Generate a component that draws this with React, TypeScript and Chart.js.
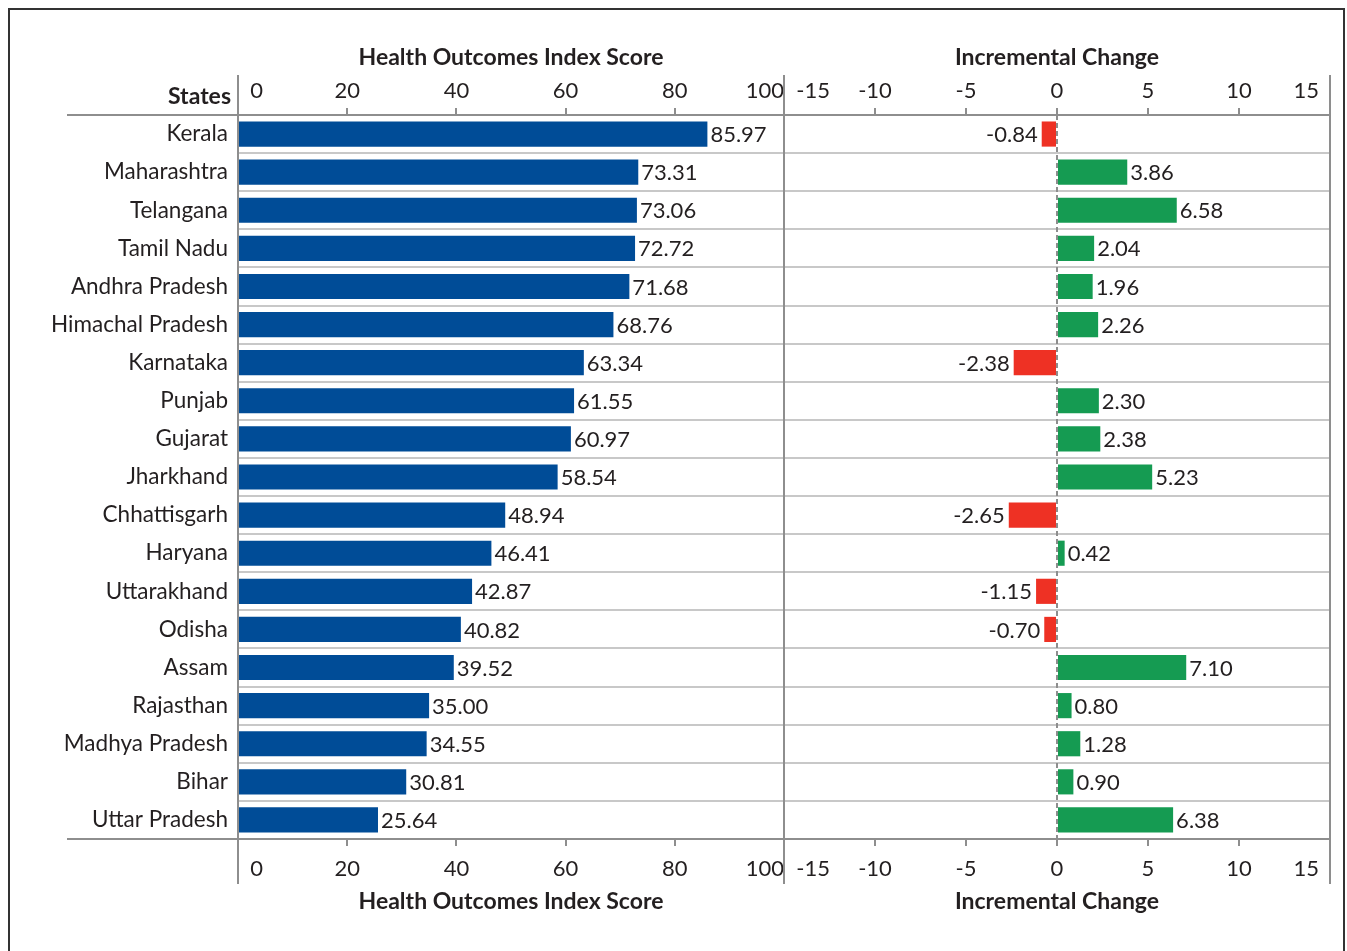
import React, { useEffect, useRef } from "react";
import { Chart, registerables } from "chart.js";

Chart.register(...registerables);

const states = [
  "Kerala", "Maharashtra", "Telangana", "Tamil Nadu", "Andhra Pradesh",
  "Himachal Pradesh", "Karnataka", "Punjab", "Gujarat", "Jharkhand",
  "Chhattisgarh", "Haryana", "Uttarakhand", "Odisha", "Assam",
  "Rajasthan", "Madhya Pradesh", "Bihar", "Uttar Pradesh",
];
const scores = [
  85.97, 73.31, 73.06, 72.72, 71.68, 68.76, 63.34, 61.55, 60.97, 58.54,
  48.94, 46.41, 42.87, 40.82, 39.52, 35.0, 34.55, 30.81, 25.64,
];
const changes = [
  -0.84, 3.86, 6.58, 2.04, 1.96, 2.26, -2.38, 2.3, 2.38, 5.23,
  -2.65, 0.42, -1.15, -0.7, 7.1, 0.8, 1.28, 0.9, 6.38,
];
const scoreTicks = [0, 20, 40, 60, 80, 100];
const changeTicks = [-15, -10, -5, 0, 5, 10, 15];
const scoreTitle = "Health Outcomes Index Score";
const changeTitle = "Incremental Change";
const categoryTitle = "States";

const FONT = "Lato";
const TEXT = "#231f20";
const AXIS = "#8e8e8e";
const GRID = "#c8c8c8";
const BLUE = "#004c97";
const GREEN = "#159b52";
const RED = "#ee3124";

const W = 1347;
const H = 951;
const AREA_LEFT = 238;
const AREA_RIGHT = 1330;
const AREA_TOP = 115;
const AREA_BOTTOM = 839;

const tickFont = { family: FONT, size: 22 };
const catFont = { family: FONT, size: 22.5 };
const titleFont = { family: FONT, size: 23, weight: "bold" as const };

function xAxis(
  position: "top" | "bottom",
  stack: string,
  min: number,
  max: number,
  ticksList: number[],
  title: string,
  lastPad: string
) {
  const top = position === "top";
  return {
    type: "linear" as const,
    position,
    stack,
    stackWeight: 1,
    min,
    max,
    afterBuildTicks: (s: any) => {
      s.ticks = ticksList.map((v) => ({ value: v }));
    },
    afterFit: (s: any) => {
      s.height = top ? AREA_TOP : H - AREA_BOTTOM;
    },
    grid: {
      drawOnChartArea: false,
      drawTicks: true,
      tickLength: 7,
      color: AXIS,
      lineWidth: 2,
    },
    border: { display: false },
    ticks: {
      font: tickFont,
      color: TEXT,
      padding: top ? 4 : 10,
      align: "inner" as const,
      maxRotation: 0,
      autoSkip: false,
      callback: (v: any, i: number) => {
        const s = String(v);
        if (i === 0) return "\u2002\u200A" + s;
        if (i === ticksList.length - 1) return s + lastPad;
        return s;
      },
    },
    title: {
      display: true,
      text: title,
      font: titleFont,
      color: TEXT,
      padding: top ? { top: 44, bottom: 0 } : { top: 0, bottom: 36 },
    },
  };
}

const decorPlugin = {
  id: "decor",
  beforeDatasetsDraw(chart: any) {
    const { ctx, chartArea } = chart;
    const zx = chart.scales.changeB.getPixelForValue(0);
    ctx.save();
    ctx.strokeStyle = AXIS;
    ctx.lineWidth = 2;
    ctx.setLineDash([5, 3]);
    ctx.beginPath();
    ctx.moveTo(zx, chartArea.top);
    ctx.lineTo(zx, chartArea.bottom);
    ctx.stroke();
    ctx.restore();
  },
  afterDatasetsDraw(chart: any) {
    const { ctx } = chart;
    ctx.save();
    ctx.font = `22px ${FONT}`;
    ctx.fillStyle = TEXT;
    ctx.textBaseline = "middle";
    chart.getDatasetMeta(0).data.forEach((bar: any, i: number) => {
      ctx.textAlign = "left";
      ctx.fillText(scores[i].toFixed(2), bar.x + 3, bar.y + 1);
    });
    chart.getDatasetMeta(1).data.forEach((bar: any, i: number) => {
      const v = changes[i];
      if (v < 0) {
        ctx.textAlign = "right";
        ctx.fillText(v.toFixed(2), bar.x - 4, bar.y + 1);
      } else {
        ctx.textAlign = "left";
        ctx.fillText(v.toFixed(2), bar.x + 3, bar.y + 1);
      }
    });
    ctx.restore();
  },
  afterDraw(chart: any) {
    const { ctx, chartArea } = chart;
    const mid = chart.scales.scoreB.right;
    ctx.save();
    ctx.strokeStyle = AXIS;
    ctx.lineWidth = 2;
    ctx.beginPath();
    ctx.moveTo(67, chartArea.top);
    ctx.lineTo(chartArea.right, chartArea.top);
    ctx.moveTo(67, chartArea.bottom);
    ctx.lineTo(chartArea.right, chartArea.bottom);
    [chartArea.left, mid, chartArea.right].forEach((x: number) => {
      ctx.moveTo(x, chartArea.top - 40);
      ctx.lineTo(x, chartArea.bottom + 45);
    });
    ctx.stroke();
    ctx.font = `bold 23px ${FONT}`;
    ctx.fillStyle = TEXT;
    ctx.textAlign = "right";
    ctx.textBaseline = "middle";
    ctx.fillText(categoryTitle, chartArea.left - 7, 97);
    ctx.restore();
  },
};

export default function App() {
  const ref = useRef<HTMLCanvasElement | null>(null);

  useEffect(() => {
    if (!ref.current) return;
    const chart = new Chart(ref.current, {
      type: "bar",
      data: {
        labels: states,
        datasets: [
          {
            label: scoreTitle,
            data: scores,
            xAxisID: "scoreB",
            backgroundColor: BLUE,
            grouped: false,
            barPercentage: 1,
            categoryPercentage: 0.66,
          } as any,
          {
            label: changeTitle,
            data: changes,
            xAxisID: "changeB",
            backgroundColor: changes.map((v) => (v < 0 ? RED : GREEN)),
            grouped: false,
            barPercentage: 1,
            categoryPercentage: 0.66,
          } as any,
        ],
      },
      options: {
        indexAxis: "y",
        animation: false,
        responsive: false,
        maintainAspectRatio: false,
        devicePixelRatio: 1,
        layout: { padding: { left: 0, right: W - AREA_RIGHT, top: 0, bottom: 0 } },
        plugins: {
          legend: { display: false },
          tooltip: { enabled: false },
        },
        scales: {
          y: {
            type: "category",
            position: "left",
            afterFit: (s: any) => {
              s.width = AREA_LEFT;
            },
            grid: {
              offset: true,
              color: GRID,
              lineWidth: 2,
              drawTicks: false,
            },
            border: { display: false },
            ticks: {
              font: catFont,
              color: TEXT,
              padding: 10,
              autoSkip: false,
            },
          },
          changeT: xAxis("top", "top", -15, 15, changeTicks, changeTitle, "\u2002"),
          scoreT: xAxis("top", "top", 0, 100, scoreTicks, scoreTitle, ""),
          scoreB: xAxis("bottom", "bottom", 0, 100, scoreTicks, scoreTitle, ""),
          changeB: xAxis("bottom", "bottom", -15, 15, changeTicks, changeTitle, "\u2002"),
        } as any,
      },
      plugins: [decorPlugin],
    });
    return () => chart.destroy();
  }, []);

  return (
    <>
      <div
        style={{
          position: "fixed",
          left: 8,
          top: 8,
          width: 1337,
          height: 960,
          border: "2px solid #333",
          boxSizing: "border-box",
        }}
      />
      <canvas
        ref={ref}
        width={W}
        height={H}
        style={{ position: "fixed", left: 0, top: 0, width: W, height: H, display: "block" }}
      />
    </>
  );
}
